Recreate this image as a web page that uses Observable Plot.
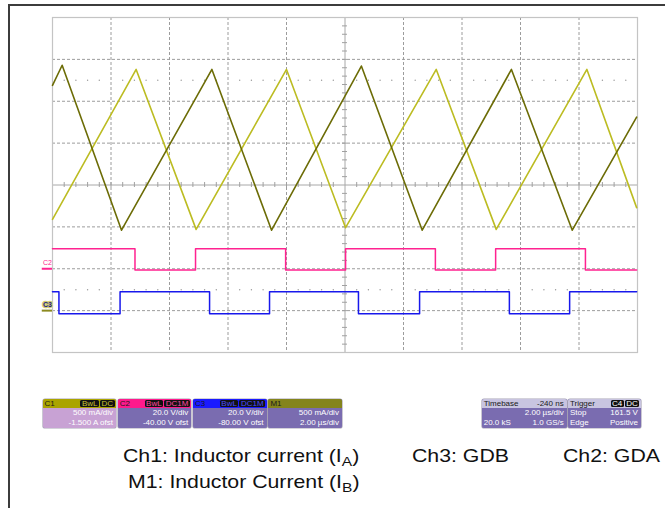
<!DOCTYPE html>
<html>
<head>
<meta charset="utf-8">
<script src="https://cdn.jsdelivr.net/npm/d3@7"></script>
<script src="https://cdn.jsdelivr.net/npm/@observablehq/plot@0.6"></script>
<style>
  html, body { margin: 0; padding: 0; background: #fff; }
  body { font-family: "Liberation Sans", Arial, sans-serif; }
  #wrap { position: relative; width: 665px; height: 508px; overflow: hidden; background: #fff; }
  #chart { position: absolute; left: 0; top: 0; }
  #chart svg { background: transparent; }
  #frame { position: absolute; left: 8px; top: 4px; width: 700px; height: 600px;
           border-top: 2px solid #3c3c3c; border-left: 2px solid #3c3c3c; box-sizing: border-box; }
  .box { position: absolute; top: 399px; height: 29px; border-radius: 2px; overflow: hidden;
         font-size: 8px; line-height: 8px; box-shadow: 0 0 0 0.6px rgba(60,50,90,0.45); }
  .hdr { height: 8.5px; position: relative; color: #1a1a1a; }
  .hdr .l { position: absolute; left: 2px; top: 0.5px; }
  .hdr .r { position: absolute; right: 1.5px; top: 0.5px; display: flex; gap: 1px; }
  .badge { background: #111; border-radius: 1.5px; padding: 0 1.5px; height: 7.5px; line-height: 7.5px; }
  .row { position: relative; height: 8px; margin-top: 1.5px; color: #fff; }
  .row .l { position: absolute; left: 2px; }
  .row .r { position: absolute; right: 3px; }
  .cap { position: absolute; font-size: 18.5px; line-height: 18.5px; color: #111;
         transform: scaleX(1.15); transform-origin: 0 0; white-space: nowrap; }
  .cap .s { font-size: 13.5px; position: relative; top: 4px; }
</style>
</head>
<body>
<div id="wrap">
  <div id="chart"></div>
  <div id="boxes"></div>
  <div id="caps"></div>
  <div id="frame"></div>
</div>
<script>
// ---------- channel settings (from the scope's info boxes) ----------
const channels = ["C1", "C2", "C3", "M1"];
const perDiv = [0.5, 20, 20, 0.5];          // A/div or V/div
const offset = [-1.5, -40, -80, -1.5];      // "ofst"
const perDivText = ["500 mA/div", "20.0 V/div", "20.0 V/div", "500 mA/div"];
const row2Text = ["-1.500 A ofst", "-40.00 V ofst", "-80.00 V ofst", "2.00 \u00b5s/div"];
const badgeText = [["BwL", "DC"], ["BwL", "DC1M"], ["BwL", "DC1M"], []];

// ---------- traces (time in µs, values in A or V) ----------
// Ch1: inductor current I_A
const ch1Time = [-10.0, -7.14, -5.09, -2.0, 0.02, 3.12, 5.17, 8.27, 9.97];
const ch1Amps = [1.09, 2.88, 0.97, 2.88, 0.99, 2.88, 0.97, 2.88, 1.23];
// M1: inductor current I_B
const m1Time = [-10.0, -9.67, -7.64, -4.55, -2.51, 0.56, 2.64, 5.69, 7.77, 9.97];
const m1Amps = [2.69, 2.93, 0.96, 2.88, 0.96, 2.92, 0.96, 2.88, 0.96, 2.31];
// Ch2: GDA gate drive
const gdaTime = [-10.0, -7.18, -5.11, -2.03, 0.02, 3.09, 5.15, 8.22, 9.97];
const gdaVolts = [9.6, -0.6, 9.6, -0.6, 9.6, -0.6, 9.6, -0.6, -0.6];
// Ch3: GDB gate drive
const gdbTime = [-10.0, -9.78, -7.69, -4.63, -2.58, 0.46, 2.55, 5.62, 7.68, 9.97];
const gdbVolts = [29.0, 18.5, 29.0, 18.5, 29.0, 18.5, 29.0, 18.5, 29.0, 29.0];

// ---------- info panel texts ----------
const timebaseText = ["Timebase", "-240 ns", "2.00 \u00b5s/div", "20.0 kS", "1.0 GS/s"];
const triggerText = ["Trigger", "Stop", "161.5 V", "Edge", "Positive"];
const triggerBadges = ["C4", "DC"];
const captionLine1 = [["Ch1: Inductor current (I", "A", ")"], ["Ch3: GDB"], ["Ch2: GDA"]];
const captionLine2 = [["M1: Inductor Current (I", "B", ")"]];

// ---------- build ----------
const toDiv = (v, ch) => (v + offset[ch]) / perDiv[ch];
const ch1 = ch1Time.map((t, i) => ({t, d: toDiv(ch1Amps[i], 0)}));
const m1 = m1Time.map((t, i) => ({t, d: toDiv(m1Amps[i], 3)}));
const gda = gdaTime.map((t, i) => ({t, d: toDiv(gdaVolts[i], 1)}));
const gdb = gdbTime.map((t, i) => ({t, d: toDiv(gdbVolts[i], 2)}));

const xDom = [-10, 10], yDom = [-4, 4];
const isMajor = v => Math.abs(v / 2 - Math.round(v / 2)) < 1e-6;
const gridX = d3.range(-8, 8.001, 2).filter(v => Math.abs(v) > 1e-6);
const gridY = [-3, -2, -1, 1, 2, 3];
const minorX = d3.range(-10, 10.001, 0.4).filter(v => Math.abs(v) > 1e-6);
const minorY = d3.range(-4, 4.001, 0.2).filter(v => Math.abs(v) > 1e-6);
const dotRows = [2.5, -2.5];
const dots = d3.cross(minorX.filter(v => !isMajor(v)), dotRows).map(([t, d]) => ({t, d}));

const colCh1 = "#bcbc22", colM1 = "#6c6c06", colC2 = "#ff2290", colC3 = "#1818ec";

const plot = Plot.plot({
  width: 665, height: 360,
  marginLeft: 52, marginRight: 28, marginTop: 17, marginBottom: 8,
  x: {domain: xDom, axis: null},
  y: {domain: yDom, axis: null},
  style: {fontFamily: "Liberation Sans, Arial, sans-serif", background: "transparent"},
  marks: [
    Plot.ruleX(gridX, {stroke: "#9c9c9c", strokeDasharray: "3,2", strokeWidth: 1}),
    Plot.ruleY(gridY, {stroke: "#9c9c9c", strokeDasharray: "3,2", strokeWidth: 1}),
    Plot.dot(dots, {x: "t", y: "d", r: 0.7, fill: "#9a9a9a", stroke: null}),
    Plot.ruleX([0], {stroke: "#a8a8a8", strokeWidth: 1}),
    Plot.ruleY([0], {stroke: "#a8a8a8", strokeWidth: 1}),
    Plot.ruleY(minorY, {x1: -0.085, x2: 0.085, stroke: "#a0a0a0"}),
    Plot.ruleX(minorX, {y1: -0.06, y2: 0.06, stroke: "#a0a0a0"}),
    Plot.frame({stroke: "#c4c4c4", strokeWidth: 1.2}),
    // traces
    Plot.line(ch1, {x: "t", y: "d", stroke: colCh1, strokeWidth: 1.6}),
    Plot.line(m1, {x: "t", y: "d", stroke: colM1, strokeWidth: 1.6}),
    Plot.line(gda, {x: "t", y: "d", curve: "step-after", stroke: colC2, strokeWidth: 1.5}),
    Plot.line(gdb, {x: "t", y: "d", curve: "step-after", stroke: colC3, strokeWidth: 1.5}),
    // ground markers in left margin
    Plot.ruleY([toDiv(0, 1)], {x1: -10.35, x2: -10, stroke: colC2, strokeWidth: 2}),
    Plot.text(["C2"], {x: -10, y: toDiv(0, 1), dx: -5, dy: -6, fill: colC2, fontSize: 7, text: d => d}),
    Plot.ruleY([toDiv(0, 0)], {x1: -10.35, x2: -10, stroke: "#8c8a20", strokeWidth: 2}),
    Plot.text(["C3"], {x: -10, y: toDiv(0, 0), dx: -5, dy: -6, fill: "#1a1a8a", stroke: "#d2cc70",
                       strokeWidth: 2.5, fontSize: 7, fontWeight: "bold", text: d => d})
  ]
});
document.getElementById("chart").appendChild(plot);

// info boxes
const hdrColors = ["#aaa400", "#ff1a8c", "#1a1aff", "#84841c"];
const bodyColors = ["#c8a2d4", "#7a6cb0", "#7a6cb0", "#7a6cb0"];
const badgeColors = ["#c8c230", "#ff4aa0", "#4a4aff", "#fff"];
const boxX = [42.5, 117.8, 193.1, 268.4];
const boxes = document.getElementById("boxes");
channels.forEach((c, i) => {
  const b = document.createElement("div");
  b.className = "box";
  b.style.left = boxX[i] + "px";
  b.style.width = "73.5px";
  b.style.background = bodyColors[i];
  const badges = badgeText[i].map(t => `<span class="badge" style="color:${badgeColors[i]}">${t}</span>`).join("");
  b.innerHTML = `<div class="hdr" style="background:${hdrColors[i]}"><span class="l">${c}</span><span class="r">${badges}</span></div>
    <div class="row"><span class="r">${perDivText[i]}</span></div>
    <div class="row"><span class="r">${row2Text[i]}</span></div>`;
  boxes.appendChild(b);
});
function infoBox(x, w, t, badges) {
  const b = document.createElement("div");
  b.className = "box";
  b.style.left = x + "px";
  b.style.width = w + "px";
  b.style.background = "#7a6cb0";
  return b;
}
const tb = infoBox(481.7, 85, timebaseText);
tb.innerHTML = `<div class="hdr" style="background:#c8c4e0"><span class="l">${timebaseText[0]}</span><span class="r" style="right:3px">${timebaseText[1]}</span></div>
  <div class="row"><span class="r">${timebaseText[2]}</span></div>
  <div class="row"><span class="l">${timebaseText[3]}</span><span class="r">${timebaseText[4]}</span></div>`;
boxes.appendChild(tb);
const tr = infoBox(567.9, 73, triggerText);
tr.innerHTML = `<div class="hdr" style="background:#c8c4e0"><span class="l">${triggerText[0]}</span><span class="r">${triggerBadges.map(t => `<span class="badge" style="color:#fff">${t}</span>`).join("")}</span></div>
  <div class="row"><span class="l">${triggerText[1]}</span><span class="r">${triggerText[2]}</span></div>
  <div class="row"><span class="l">${triggerText[3]}</span><span class="r">${triggerText[4]}</span></div>`;
boxes.appendChild(tr);

// captions
const caps = document.getElementById("caps");
const capPos1 = [123, 412, 563];
const capPos2 = [128];
function addCap(parts, x, top) {
  const d = document.createElement("div");
  d.className = "cap";
  d.style.left = x + "px";
  d.style.top = top + "px";
  d.innerHTML = parts.length === 3 ? `${parts[0]}<span class="s">${parts[1]}</span>${parts[2]}` : parts[0];
  caps.appendChild(d);
}
captionLine1.forEach((p, i) => addCap(p, capPos1[i], 447.3));
captionLine2.forEach((p, i) => addCap(p, capPos2[i], 473.3));
</script>
</body>
</html>
